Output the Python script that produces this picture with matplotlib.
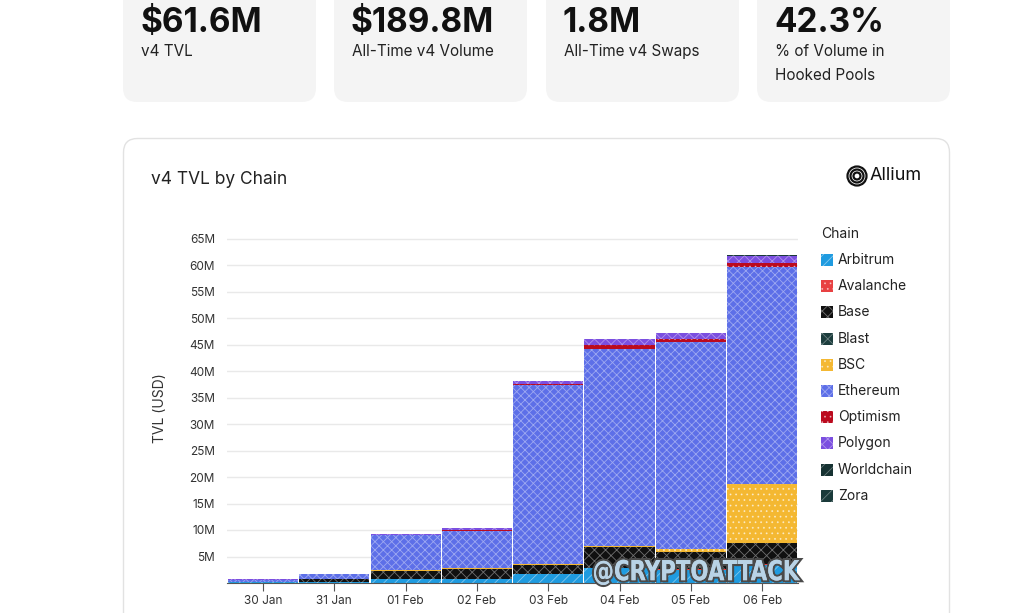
import numpy as np
import matplotlib
matplotlib.use('Agg')
import matplotlib.pyplot as plt
from matplotlib.patches import FancyBboxPatch, Rectangle, Circle, PathPatch
from matplotlib.textpath import TextPath
from matplotlib.font_manager import FontProperties
from matplotlib.transforms import Affine2D
import matplotlib.patheffects as pe

plt.rcParams['font.family'] = ['Inter', 'DejaVu Sans']
plt.rcParams['hatch.linewidth'] = 0.6

# ---- data (TVL in millions USD) ----
dates = ['30 Jan', '31 Jan', '01 Feb', '02 Feb', '03 Feb', '04 Feb', '05 Feb', '06 Feb']
arbitrum   = [0.10, 0.25, 0.70, 0.75, 1.70, 2.80, 2.50, 3.40]
avalanche  = [0.00, 0.00, 0.02, 0.03, 0.05, 0.08, 0.08, 0.10]
base       = [0.05, 0.55, 1.60, 1.80, 1.70, 3.90, 3.30, 4.00]
blast      = [0.00, 0.00, 0.01, 0.02, 0.03, 0.05, 0.05, 0.06]
bsc        = [0.00, 0.02, 0.15, 0.20, 0.15, 0.20, 0.40, 11.20]
ethereum   = [0.50, 0.80, 6.60, 7.10, 33.80, 37.10, 39.10, 40.90]
optimism   = [0.00, 0.00, 0.05, 0.05, 0.20, 0.75, 0.65, 0.75]
polygon    = [0.05, 0.08, 0.15, 0.50, 0.45, 1.10, 1.10, 1.35]
worldchain = [0.00, 0.00, 0.00, 0.01, 0.01, 0.02, 0.02, 0.02]
zora       = [0.00, 0.00, 0.00, 0.01, 0.01, 0.01, 0.01, 0.02]

chains = ['Arbitrum', 'Avalanche', 'Base', 'Blast', 'BSC', 'Ethereum',
          'Optimism', 'Polygon', 'Worldchain', 'Zora']
series = [arbitrum, avalanche, base, blast, bsc, ethereum,
          optimism, polygon, worldchain, zora]
colors = ['#1f9be0', '#e84142', '#101010', '#1c3d3d', '#f4b832', '#5d6fe8',
          '#bb0a1e', '#7b4fe0', '#163232', '#1a3a3a']
hatches = ['///', '...', 'xxx', 'xxx', '...', 'xxxx', '...', 'xxx', '///', '///']
hatch_cols = [(1, 1, 1, 0.45), (1, 1, 1, 0.5), (1, 1, 1, 0.4), (1, 1, 1, 0.35),
              (1, 1, 1, 0.55), (1, 1, 1, 0.4), (1, 1, 1, 0.5), (1, 1, 1, 0.4),
              (1, 1, 1, 0.35), (1, 1, 1, 0.35)]

cards = [('$61.6M', 'v4 TVL'),
         ('$189.8M', 'All-Time v4 Volume'),
         ('1.8M', 'All-Time v4 Swaps'),
         ('42.3%', '% of Volume in\nHooked Pools')]

W, H = 1035, 613
fig = plt.figure(figsize=(W / 100, H / 100), dpi=100)
fig.patch.set_facecolor('white')

# background layer in pixel coords
bg = fig.add_axes([0, 0, 1, 1], zorder=0)
bg.set_xlim(0, W)
bg.set_ylim(H, 0)
bg.axis('off')

card_x = [123, 334, 546, 757]
for (big, small), cx in zip(cards, card_x):
    bg.add_patch(FancyBboxPatch((cx, -30), 193, 132, boxstyle='round,pad=0,rounding_size=14',
                                facecolor='#f4f4f4', edgecolor='none'))
    bg.text(cx + 17, 23, big, fontsize=24, fontweight='bold', color='#111111', va='center')
    bg.text(cx + 18, 44, small, fontsize=11, color='#222222', va='top', linespacing=1.75)

# chart card
bg.add_patch(FancyBboxPatch((123.5, 138.5), 826, 520, boxstyle='round,pad=0,rounding_size=14',
                            facecolor='white', edgecolor='#e2e2e2', linewidth=1))
bg.text(151, 179, 'v4 TVL by Chain', fontsize=12.5, color='#222222', va='center')
for r in [9.5, 6.5, 3.5]:
    bg.add_patch(Circle((857, 176), r, facecolor='none', edgecolor='#111111', linewidth=1.6))
bg.text(870, 176, 'Allium', fontsize=13, color='#111111', va='center')

# legend
bg.text(821, 234, 'Chain', fontsize=10, color='#222222', va='center')
for i, (name, c, h, hc) in enumerate(zip(chains, colors, hatches, hatch_cols)):
    y = 260 + i * 26.2
    bg.add_patch(Rectangle((821, y - 6), 12, 12, facecolor=c, edgecolor=hc, hatch=h, linewidth=0))
    bg.text(838, y, name, fontsize=10, color='#222222', va='center')

# chart
ax = fig.add_axes([227.4 / W, 1 - 583 / H, 570.4 / W, (583 - 233.2) / H], zorder=1)
ax.patch.set_alpha(0)
x = np.arange(len(dates))
bottom = np.zeros(len(dates))
for name, vals, c, h, hc in zip(chains, series, colors, hatches, hatch_cols):
    v = np.array(vals) * 1e6
    ax.bar(x, v, width=0.985, bottom=bottom, color=c, edgecolor=hc, hatch=h,
           linewidth=0, zorder=2)
    bottom += v

ax.set_xlim(-0.5, 7.5)
ax.set_ylim(0, 66e6)
yt = np.arange(5, 70, 5) * 1e6
ax.set_yticks(yt)
ax.set_yticklabels(['%dM' % (t / 1e6) for t in yt])
ax.set_xticks(x)
ax.set_xticklabels(dates)
ax.grid(axis='y', color='#e9e9e9', linewidth=1, zorder=0)
for s in ['top', 'right', 'left']:
    ax.spines[s].set_visible(False)
ax.spines['bottom'].set_color('#555555')
ax.spines['bottom'].set_zorder(3)
ax.tick_params(axis='y', length=0, pad=9, labelsize=8.5, labelcolor='#333333')
ax.tick_params(axis='x', length=6, width=0.8, color='#555555', pad=3, labelsize=8.5,
               labelcolor='#333333')
ax.set_ylabel('TVL (USD)', fontsize=10, color='#333333', labelpad=16)

# watermark (condensed by squeezing the text path horizontally)
wm = TextPath((0, 0), '@CRYPTOATTACK', size=30,
              prop=FontProperties(family='DejaVu Sans', weight='bold'))
ext = wm.get_extents()
sx = 206 / ext.width
wm_t = Affine2D().translate(-ext.x0, -ext.y0).scale(sx, -0.92).translate(594, 585)
bg2 = fig.add_axes([0, 0, 1, 1], zorder=5)
bg2.set_xlim(0, W)
bg2.set_ylim(H, 0)
bg2.axis('off')
bg2.add_patch(PathPatch(wm_t.transform_path(wm), facecolor='#b9d3e6', edgecolor='none',
                        path_effects=[pe.withStroke(linewidth=3, foreground='#4a4a4a'),
                                      pe.Normal()]))

fig.savefig('out.png', dpi=100)
